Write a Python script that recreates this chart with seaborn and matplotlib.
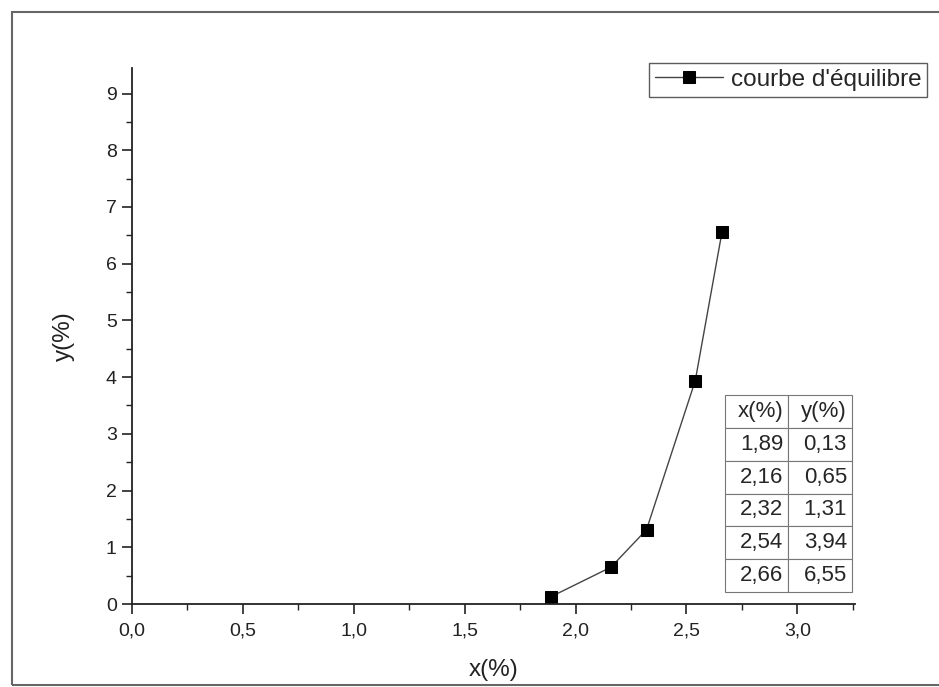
import matplotlib.pyplot as plt
import matplotlib.ticker as mticker
from matplotlib.patches import Rectangle
import pandas as pd
import seaborn as sns

x_vals = [1.89, 2.16, 2.32, 2.54, 2.66]
y_vals = [0.13, 0.65, 1.31, 3.94, 6.55]
x_txt = ["1,89", "2,16", "2,32", "2,54", "2,66"]
y_txt = ["0,13", "0,65", "1,31", "3,94", "6,55"]

sns.set_style("ticks")
plt.rcParams["font.family"] = ["Liberation Sans", "DejaVu Sans"]

df = pd.DataFrame({"x": x_vals, "y": y_vals})

fig = plt.figure(figsize=(9.39, 6.87), dpi=100)
ax = fig.add_axes([0.1406, 0.1208, 0.7699, 0.7802])

sns.lineplot(data=df, x="x", y="y", marker="s", markersize=8, color="#444444",
             markerfacecolor="black", markeredgecolor="black", linewidth=1.0,
             label="courbe d'équilibre", ax=ax)

ax.set_xlim(0, 3.26)
ax.set_ylim(0, 9.45)
ax.xaxis.set_major_locator(mticker.MultipleLocator(0.5))
ax.xaxis.set_minor_locator(mticker.MultipleLocator(0.25))
ax.yaxis.set_major_locator(mticker.MultipleLocator(1))
ax.yaxis.set_minor_locator(mticker.MultipleLocator(0.5))
ax.xaxis.set_major_formatter(mticker.FuncFormatter(lambda v, p: f"{v:.1f}".replace(".", ",")))
ax.yaxis.set_major_formatter(mticker.FuncFormatter(lambda v, p: f"{v:.0f}"))

for s in ["top", "right"]:
    ax.spines[s].set_visible(False)
for s in ["left", "bottom"]:
    ax.spines[s].set_linewidth(1.3)
    ax.spines[s].set_color("#222222")

ax.tick_params(which="major", direction="out", length=7, width=1.2, labelsize=14,
               pad=4, colors="#222222")
ax.tick_params(axis="x", which="major", pad=6)
ax.tick_params(which="minor", direction="out", length=4, width=1.0, colors="#222222")

ax.set_xlabel("x(%)", fontsize=17.5, labelpad=14, color="#222222")
ax.set_ylabel("y(%)", fontsize=17.5, labelpad=22, color="#222222")

leg = ax.legend(loc="upper right", bbox_to_anchor=(1.1, 1.01), fontsize=17.5,
                frameon=True, fancybox=False, handlelength=2.8, borderpad=0.25,
                handletextpad=0.3, borderaxespad=0)
leg.get_frame().set_edgecolor("#333333")
leg.get_frame().set_linewidth(1.0)

cells = [["x(%)", "y(%)"]] + [[a, b] for a, b in zip(x_txt, y_txt)]
tab = ax.table(cellText=cells, cellLoc="right", bbox=[0.820, 0.0224, 0.176, 0.3675])
tab.auto_set_font_size(False)
tab.set_fontsize(16)
for (r, c), cell in tab.get_celld().items():
    cell.set_edgecolor("#777777")
    cell.set_linewidth(0.8)
    cell.set_facecolor("white")
    cell.PAD = 0.08

fig.patches.append(Rectangle((12 / 939, 2 / 687), 935 / 939, 673 / 687,
                             transform=fig.transFigure, fill=False,
                             edgecolor="#666666", linewidth=1.5))

fig.savefig("out.png", dpi=100)
